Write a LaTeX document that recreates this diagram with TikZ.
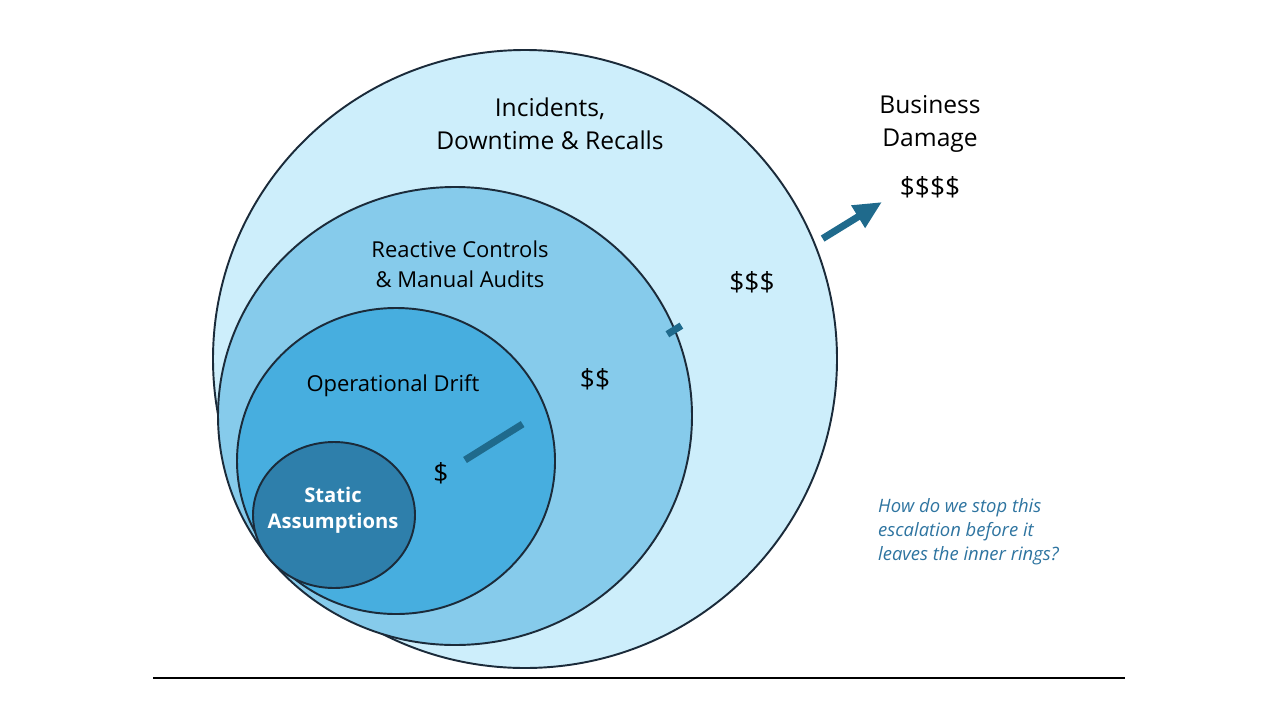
\documentclass[tikz,border=0pt]{standalone}
\usepackage{fontspec}
\setmainfont{Open Sans}
\usetikzlibrary{arrows.meta}
\usetikzlibrary{positioning}

\definecolor{ringA}{HTML}{CDEEFB}
\definecolor{ringB}{HTML}{86CBEB}
\definecolor{ringC}{HTML}{47AEDF}
\definecolor{ringD}{HTML}{2E7FAB}
\definecolor{edgeC}{HTML}{1B2B3A}
\definecolor{arrowC}{HTML}{1F6A8C}
\definecolor{noteC}{HTML}{2E74A0}

\begin{document}
\begin{tikzpicture}[
        x=0.02cm, y=-0.02cm,
        ring/.style={draw=edgeC, line width=1.1pt},
        label/.style={font=\fontsize{12.5}{15}\selectfont, align=center, text=black},
        cost/.style={font=\fontsize{15}{18}\selectfont, text=black},
        escalate/.style={draw=arrowC, line width=4pt}
    ]

    \useasboundingbox (0,0) rectangle (1280,720);

    % Rings
    \fill[ring, fill=ringA] (525,359) ellipse [x radius=312, y radius=309];
    \fill[ring, fill=ringB] (455,416) ellipse [x radius=237, y radius=229];
    \fill[ring, fill=ringC] (396,461) ellipse [x radius=159, y radius=153];
    \fill[ring, fill=ringD] (334,515) ellipse [x radius=81, y radius=73];

    % Ring labels
    \node[label, font=\fontsize{14}{17}\selectfont] (incidents) at (550,124)
        {Incidents,\\[2pt]Downtime \& Recalls};
    \node[label] (reactive) at (460,264) {Reactive Controls\\[2pt]\& Manual Audits};
    \node[label] (drift) at (393,386) {Operational Drift};
    \node[label, text=white, font=\fontsize{11.5}{14}\selectfont\bfseries] (static) at (333,510)
        {Static\\[1pt]Assumptions};

    % Business damage
    \node[label, font=\fontsize{14}{17}\selectfont] (damage) at (930,124) {Business\\[2pt]Damage};
    \node[cost] (d4) at (930,187) {\$\$\$\$};

    % Cost labels
    \node[cost] (d1) at (441,473) {\$};
    \node[cost, minimum width=82, minimum height=52] (d2) at (595,379) {\$\$};
    \node[cost, minimum width=80, minimum height=52] (d3) at (752,282) {\$\$\$};
    \coordinate (start) at (465,460);
    \coordinate (tip) at (882,202);

    % Escalation arrow
    \draw[escalate] (start) -- (d2);
    \draw[escalate] (d2) -- (d3);
    \draw[escalate, -{Triangle[length=16pt, width=14pt]}] (d3) -- (tip);

    % Note
    \node[anchor=north west, align=left, text=noteC,
          font=\fontsize{10.5}{13.6}\selectfont\itshape] (note) at (872,492)
        {How do we stop this\\escalation before it\\leaves the inner rings?};

    % Base line
    \coordinate (baseL) at (153,678);
    \coordinate (baseR) at (1125,678);
    \draw[black, line width=0.6pt] (baseL) -- (baseR);

\end{tikzpicture}
\end{document}
